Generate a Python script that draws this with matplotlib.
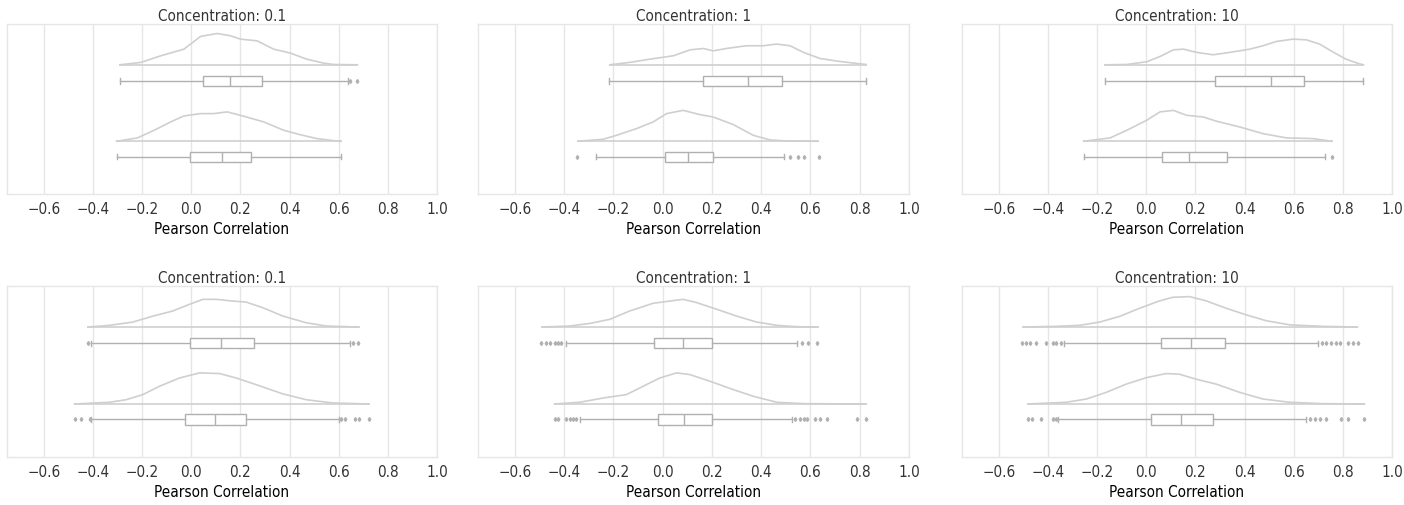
import numpy as np
import matplotlib as mpl
import matplotlib.pyplot as plt

# panel titles, top row then bottom row
titles = ['Concentration: 0.1', 'Concentration: 1', 'Concentration: 10',
          'Concentration: 0.1', 'Concentration: 1', 'Concentration: 10']

# kde outlines: x grid and relative density (x10)
kde_x = [
    [[-0.291, -0.205, -0.124, -0.030, 0.038, 0.105, 0.159, 0.200, 0.268, 0.335, 0.403, 0.470, 0.538, 0.578, 0.676],
     [-0.304, -0.219, -0.151, -0.084, -0.030, 0.038, 0.092, 0.146, 0.200, 0.295, 0.376, 0.443, 0.511, 0.578, 0.609]],
    [[-0.215, -0.134, -0.053, 0.043, 0.111, 0.165, 0.205, 0.259, 0.340, 0.408, 0.462, 0.517, 0.572, 0.639, 0.707, 0.775, 0.826],
     [-0.344, -0.242, -0.188, -0.106, -0.039, 0.016, 0.083, 0.151, 0.205, 0.287, 0.368, 0.436, 0.504, 0.630]],
    [[-0.167, -0.079, 0.002, 0.056, 0.110, 0.151, 0.205, 0.272, 0.340, 0.421, 0.475, 0.529, 0.597, 0.651, 0.705, 0.759, 0.813, 0.867, 0.884],
     [-0.255, -0.147, -0.079, 0.002, 0.056, 0.110, 0.164, 0.232, 0.286, 0.381, 0.475, 0.570, 0.678, 0.755]],
    [[-0.421, -0.333, -0.238, -0.156, -0.075, -0.007, 0.047, 0.101, 0.169, 0.223, 0.291, 0.373, 0.468, 0.549, 0.681],
     [-0.475, -0.333, -0.265, -0.197, -0.129, -0.048, 0.034, 0.115, 0.183, 0.264, 0.373, 0.468, 0.576, 0.722]],
    [[-0.490, -0.378, -0.296, -0.215, -0.134, -0.039, 0.029, 0.083, 0.138, 0.219, 0.300, 0.382, 0.463, 0.544, 0.630],
     [-0.439, -0.337, -0.242, -0.147, -0.079, -0.012, 0.056, 0.110, 0.192, 0.287, 0.368, 0.463, 0.572, 0.826]],
    [[-0.502, -0.367, -0.272, -0.190, -0.109, -0.027, 0.054, 0.108, 0.176, 0.244, 0.325, 0.407, 0.488, 0.583, 0.719, 0.859],
     [-0.482, -0.326, -0.244, -0.163, -0.082, 0.000, 0.081, 0.135, 0.203, 0.285, 0.380, 0.475, 0.583, 0.719, 0.888]],
]
kde_y = [
    [[0, 0.14, 0.53, 0.92, 1.67, 1.84, 1.71, 1.51, 1.41, 0.92, 0.69, 0.33, 0.10, 0.02, 0],
     [0, 0.20, 0.65, 1.14, 1.49, 1.63, 1.63, 1.73, 1.53, 1.14, 0.65, 0.39, 0.16, 0.04, 0]],
    [[0, 0.14, 0.33, 0.53, 0.88, 0.96, 0.82, 0.96, 1.12, 1.12, 1.22, 1.12, 0.73, 0.37, 0.22, 0.10, 0.02],
     [0, 0.12, 0.35, 0.75, 1.14, 1.63, 1.82, 1.57, 1.43, 0.98, 0.35, 0.08, 0.02, 0]],
    [[0, 0.02, 0.18, 0.49, 0.88, 0.92, 0.73, 0.59, 0.73, 0.92, 1.12, 1.37, 1.51, 1.47, 1.22, 0.76, 0.33, 0.06, 0],
     [0, 0.20, 0.65, 1.24, 1.73, 1.82, 1.53, 1.43, 1.18, 0.84, 0.45, 0.20, 0.16, 0]],
    [[0, 0.10, 0.29, 0.64, 0.94, 1.33, 1.62, 1.62, 1.52, 1.46, 1.13, 0.64, 0.25, 0.06, 0],
     [0, 0.10, 0.25, 0.55, 1.04, 1.52, 1.82, 1.78, 1.52, 1.13, 0.59, 0.25, 0.06, 0]],
    [[0, 0.06, 0.21, 0.45, 0.94, 1.39, 1.52, 1.62, 1.43, 1.04, 0.64, 0.29, 0.10, 0.02, 0],
     [0, 0.10, 0.35, 0.55, 1.04, 1.52, 1.82, 1.72, 1.33, 0.84, 0.45, 0.10, 0.02, 0]],
    [[0, 0.04, 0.10, 0.29, 0.62, 1.10, 1.53, 1.74, 1.78, 1.53, 1.10, 0.71, 0.37, 0.13, 0.04, 0],
     [0, 0.10, 0.29, 0.68, 1.16, 1.54, 1.78, 1.74, 1.45, 1.16, 0.68, 0.29, 0.10, 0.02, 0]],
]

# box statistics: whisker low, q1, median, q3, whisker high, fliers
box_stats = [
    [(-0.291, 0.047, 0.159, 0.288, 0.639, [0.646, 0.676]),
     (-0.304, -0.005, 0.126, 0.243, 0.609, [])],
    [(-0.218, 0.162, 0.345, 0.486, 0.826, []),
     (-0.269, 0.009, 0.101, 0.205, 0.493, [-0.346, 0.515, 0.551, 0.572, 0.633])],
    [(-0.167, 0.279, 0.506, 0.640, 0.884, []),
     (-0.255, 0.063, 0.175, 0.327, 0.726, [0.755])],
    [(-0.407, -0.007, 0.122, 0.255, 0.644, [-0.421, 0.658, 0.678]),
     (-0.407, -0.027, 0.095, 0.224, 0.601, [-0.475, -0.448, -0.414, 0.610, 0.624, 0.665, 0.682, 0.722])],
    [(-0.394, -0.035, 0.083, 0.201, 0.544, [-0.493, -0.475, -0.459, -0.439, -0.425, -0.412, 0.565, 0.589, 0.626]),
     (-0.337, -0.018, 0.087, 0.199, 0.524, [-0.439, -0.425, -0.391, -0.378, -0.364, -0.351,
                                             0.538, 0.558, 0.572, 0.585, 0.619, 0.639, 0.666, 0.789, 0.826])],
    [(-0.333, 0.061, 0.183, 0.319, 0.699, [-0.505, -0.491, -0.475, -0.448, -0.407, -0.380, -0.367, -0.346,
                                           0.716, 0.732, 0.753, 0.773, 0.787, 0.821, 0.841, 0.861]),
     (-0.360, 0.020, 0.142, 0.271, 0.651, [-0.482, -0.464, -0.428, -0.380, -0.367,
                                           0.665, 0.685, 0.705, 0.732, 0.793, 0.821, 0.888])],
]

xticks = [-0.6, -0.4, -0.2, 0.0, 0.2, 0.4, 0.6, 0.8, 1.0]

# style
# -----
mpl.rcParams.update({
    'font.family': 'DejaVu Sans',
    'font.stretch': 'condensed',
    'font.size': 11,
    'text.color': '#333333',
    'xtick.color': '#333333',
})
kde_col = '#cfcfcf'
box_col = '#b0b0b0'
grid_col = '#e6e6e6'

kde_base = [0.24, 0.69]   # y of kde baselines (axes units, top = 0)
box_pos = [0.335, 0.78]
kde_scale = 0.1

fig = plt.figure(figsize=(14.04, 5.06), dpi=100)

# axes boxes in pixels: left, right, top, bottom
lefts = [7, 478, 962]
rights = [437, 909, 1392]
tops = [25, 287]
bottoms = [195, 458]
W, H = 1404., 506.

for i in range(6):
    r, c = divmod(i, 3)
    ax = fig.add_axes([lefts[c] / W, 1 - bottoms[r] / H,
                       (rights[c] - lefts[c]) / W, (bottoms[r] - tops[r]) / H])
    for g in range(2):
        xs = np.array(kde_x[i][g])
        ys = kde_base[g] - kde_scale * np.array(kde_y[i][g])
        ax.plot(xs, ys, color=kde_col, lw=1.2, solid_joinstyle='round')
        ax.plot([xs[0], xs[-1]], [kde_base[g], kde_base[g]], color=kde_col, lw=1.2)

    stats = []
    for lo, q1, med, q3, hi, fl in box_stats[i]:
        stats.append(dict(whislo=lo, q1=q1, med=med, q3=q3, whishi=hi, fliers=fl))
    ax.bxp(stats, positions=box_pos, widths=0.06, vert=False, patch_artist=True,
           boxprops=dict(facecolor='white', edgecolor=box_col, lw=1.0),
           medianprops=dict(color=box_col, lw=1.0),
           whiskerprops=dict(color=box_col, lw=1.0),
           capprops=dict(color=box_col, lw=1.0),
           flierprops=dict(marker='d', markersize=2.0, markerfacecolor=box_col,
                           markeredgecolor=box_col, lw=0),
           capwidths=0.03)

    ax.set_xlim(-0.75, 1.0)
    ax.set_ylim(1.0, 0.0)
    ax.set_yticks([])
    ax.set_xticks(xticks)
    ax.set_xticklabels(['\u22120.6', '\u22120.4', '\u22120.2', '0.0', '0.2', '0.4', '0.6', '0.8', '1.0'])
    ax.tick_params(axis='x', length=0, pad=5, labelsize=11)
    ax.xaxis.grid(True, color=grid_col, lw=1.0)
    ax.set_axisbelow(True)
    for s in ax.spines.values():
        s.set_color(grid_col)
        s.set_linewidth(1.0)
    ax.set_title(titles[i], fontsize=11, pad=3)
    ax.set_xlabel('Pearson Correlation', fontsize=11, labelpad=4)

fig.patch.set_facecolor('white')
fig.savefig('out.png', dpi=100)
